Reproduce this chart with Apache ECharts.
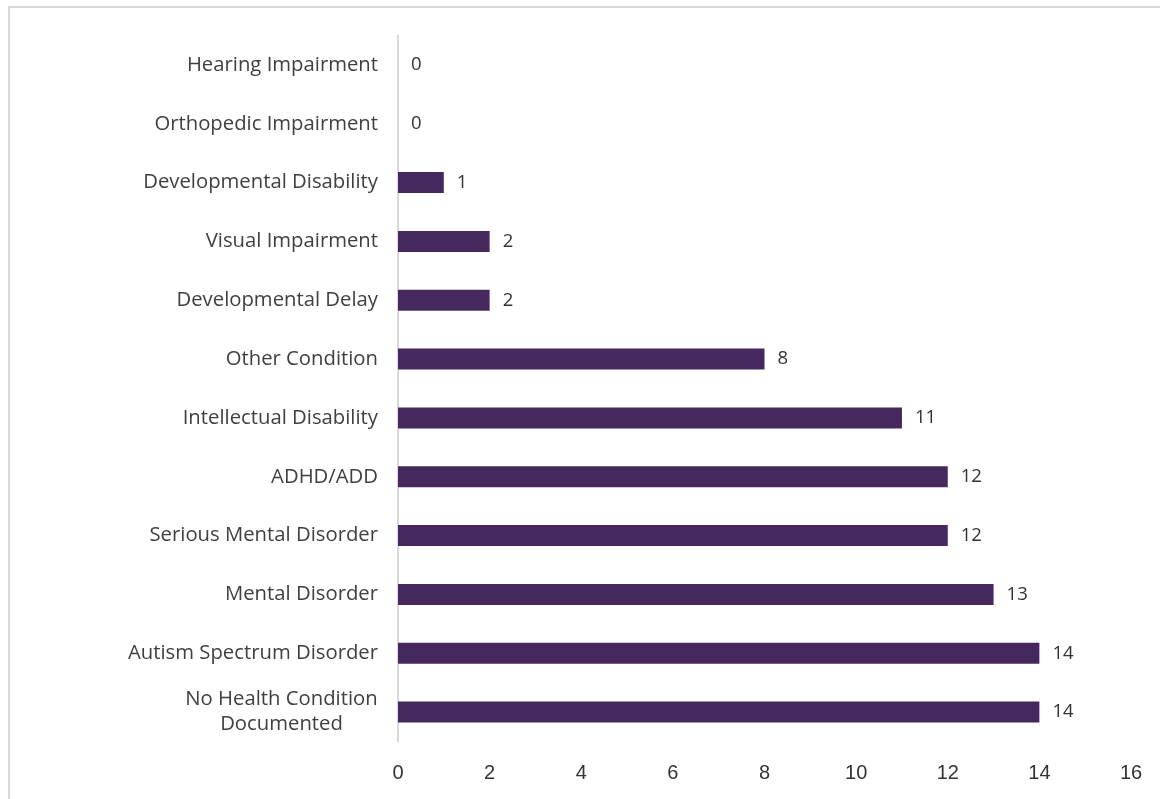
<!DOCTYPE html>
<html><head><meta charset="utf-8">
<style>html,body{margin:0;padding:0;background:#fff}#c{width:1160px;height:799px}</style>
<script src="https://cdn.jsdelivr.net/npm/echarts@6/dist/echarts.min.js"></script>
</head><body><div id="c"></div>
<script>
const categories = ["Hearing Impairment","Orthopedic Impairment","Developmental Disability","Visual Impairment","Developmental Delay","Other Condition","Intellectual Disability","ADHD/ADD","Serious Mental Disorder","Mental Disorder","Autism Spectrum Disorder","No Health Condition\nDocumented"];
const values = [0,0,1,2,2,8,11,12,12,13,14,14];
const xTicks = [0,2,4,6,8,10,12,14,16];

const catSize = 20.3;
const cv = document.createElement('canvas').getContext('2d');
cv.font = catSize + 'px "Open Sans"';
function fmt(v){
  const lines = v.split('\n');
  if (lines.length < 2) return v;
  return lines.map(l => '{c|' + l + '}').join('\n');
}
const maxW = Math.ceil(cv.measureText('No Health Condition').width);

const chart = echarts.init(document.getElementById('c'));
chart.setOption({
  animation:false,
  graphic:[{type:'rect',shape:{x:9,y:7,width:1300,height:1000},style:{fill:'none',stroke:'#d9d9d9',lineWidth:2},silent:true}],
  grid:{left:398,right:29,top:35.5,bottom:57.5,containLabel:false},
  xAxis:{type:'value',min:xTicks[0],max:xTicks[xTicks.length-1],interval:2,
    axisLine:{show:false},axisTick:{show:false},splitLine:{show:false},
    axisLabel:{margin:22,color:'#333',fontFamily:'Liberation Sans Narrow, Liberation Sans',fontSize:20}},
  yAxis:{type:'category',data:categories,inverse:true,
    axisLine:{show:true,lineStyle:{color:'#d9d9d9',width:2}},axisTick:{show:false},
    axisLabel:{margin:20,color:'#404040',fontFamily:'Open Sans',fontSize:catSize,lineHeight:25,align:'right',
      formatter:fmt,
      rich:{c:{width:maxW,align:'center',fontFamily:'Open Sans',fontSize:catSize,lineHeight:25,color:'#404040'}}}},
  series:[{type:'bar',data:values,barWidth:21,itemStyle:{color:'#45295e'},
    label:{show:true,position:'right',distance:13,color:'#333',fontFamily:'Open Sans',fontSize:18.5}}]
});
</script></body></html>
